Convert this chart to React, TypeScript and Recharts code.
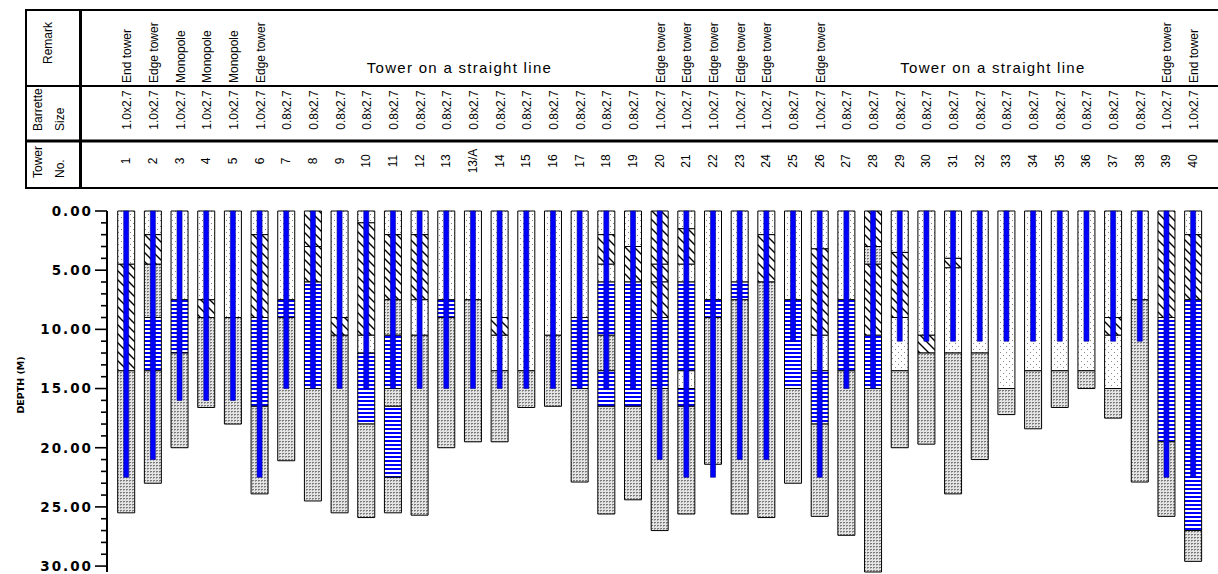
import React from 'react';
import { BarChart, Bar, XAxis, YAxis, Cell } from 'recharts';

if (typeof document !== 'undefined') {
  document.body.style.margin = '0';
  document.body.style.overflow = 'hidden';
}

const towers = ['1', '2', '3', '4', '5', '6', '7', '8', '9', '10', '11', '12', '13', '13/A', '14', '15', '16', '17', '18', '19', '20', '21', '22', '23', '24', '25', '26', '27', '28', '29', '30', '31', '32', '33', '34', '35', '36', '37', '38', '39', '40'];

const barretteSizes = [
  '1.0x2.7', '1.0x2.7', '1.0x2.7', '1.0x2.7', '1.0x2.7', '1.0x2.7',
  '0.8x2.7', '0.8x2.7', '0.8x2.7', '0.8x2.7', '0.8x2.7', '0.8x2.7', '0.8x2.7', '0.8x2.7', '0.8x2.7', '0.8x2.7', '0.8x2.7', '0.8x2.7', '0.8x2.7', '0.8x2.7',
  '1.0x2.7', '1.0x2.7', '1.0x2.7', '1.0x2.7', '1.0x2.7', '0.8x2.7', '1.0x2.7',
  '0.8x2.7', '0.8x2.7', '0.8x2.7', '0.8x2.7', '0.8x2.7', '0.8x2.7', '0.8x2.7', '0.8x2.7', '0.8x2.7', '0.8x2.7', '0.8x2.7', '0.8x2.7',
  '1.0x2.7', '1.0x2.7',
];

const remarks = [
  'End tower', 'Edge tower', 'Monopole', 'Monopole', 'Monopole', 'Edge tower',
  '', '', '', '', '', '', '', '', '', '', '', '', '', '',
  'Edge tower', 'Edge tower', 'Edge tower', 'Edge tower', 'Edge tower', '', 'Edge tower',
  '', '', '', '', '', '', '', '', '', '', '', '',
  'Edge tower', 'End tower',
];

const remarkGroups = [
  { label: 'Tower on a straight line', from: 6, to: 19 },
  { label: 'Tower on a straight line', from: 27, to: 38 },
];

// pile (blue) tip depth, m
const pileDepths = [22.5, 21, 16, 16, 16, 22.5, 15, 15, 15, 15, 15, 15, 15, 15, 15, 15, 15, 15, 15, 15, 21, 22.5, 22.5, 21, 21, 11, 22.5, 15, 15, 11, 11, 11, 11, 11, 11, 11, 11, 11, 11, 22.5, 22.5];

// soil layers: [pattern, bottom depth (m)]  S=sand dots, H=hatched, B=blue stripes, G=dense grid
const soilLayers: [string, number][][] = [
  [['S', 4.5], ['H', 13.5], ['G', 25.5]],
  [['S', 2], ['H', 4.5], ['G', 9], ['B', 13.5], ['G', 23]],
  [['S', 7.5], ['B', 12], ['G', 20]],
  [['S', 7.5], ['H', 9], ['G', 16.6]],
  [['S', 9], ['G', 18]],
  [['S', 2], ['H', 9], ['B', 16.5], ['G', 23.9]],
  [['S', 7.5], ['B', 9], ['G', 21.1]],
  [['H', 3], ['H', 6], ['B', 15], ['G', 24.5]],
  [['S', 9], ['H', 10.5], ['G', 25.5]],
  [['S', 1], ['H', 10.5], ['S', 12], ['B', 18], ['G', 25.9]],
  [['S', 2], ['H', 7.5], ['G', 10.5], ['B', 15], ['G', 16.5], ['B', 22.5], ['G', 25.5]],
  [['S', 2], ['H', 7.5], ['S', 10.5], ['G', 25.7]],
  [['S', 7.5], ['B', 9], ['G', 20]],
  [['S', 7.5], ['G', 19.5]],
  [['S', 9], ['H', 10.5], ['S', 13.5], ['G', 19.5]],
  [['S', 13.5], ['G', 16.6]],
  [['S', 10.5], ['G', 16.5]],
  [['S', 9], ['B', 15], ['G', 22.9]],
  [['S', 2], ['H', 4.5], ['S', 6], ['B', 10.5], ['G', 13.5], ['B', 16.5], ['G', 25.6]],
  [['S', 3], ['H', 6], ['B', 16.5], ['G', 24.4]],
  [['H', 4.5], ['H', 6], ['H', 9], ['B', 15], ['G', 27]],
  [['S', 1.5], ['H', 4.5], ['S', 6], ['B', 13.5], ['S', 15], ['B', 16.5], ['G', 25.6]],
  [['S', 7.5], ['B', 9], ['G', 21.4]],
  [['S', 6], ['B', 7.5], ['G', 25.6]],
  [['S', 2], ['H', 6], ['G', 25.9]],
  [['S', 7.5], ['B', 15], ['G', 23]],
  [['S', 3.2], ['H', 10.5], ['S', 13.5], ['B', 18], ['G', 25.8]],
  [['S', 7.5], ['B', 13.5], ['G', 27.4]],
  [['H', 3], ['G', 4.5], ['H', 10.5], ['B', 15], ['G', 30.5]],
  [['S', 3.5], ['H', 9], ['S', 13.5], ['G', 20]],
  [['S', 10.5], ['H', 12], ['G', 19.7]],
  [['S', 4], ['H', 4.8], ['S', 12], ['G', 23.9]],
  [['S', 12], ['G', 21]],
  [['S', 15], ['G', 17.2]],
  [['S', 13.5], ['G', 18.4]],
  [['S', 13.5], ['G', 16.6]],
  [['S', 13.5], ['G', 15]],
  [['S', 9], ['H', 10.5], ['S', 15], ['G', 17.5]],
  [['S', 7.5], ['G', 22.9]],
  [['H', 9], ['B', 19.5], ['G', 25.8]],
  [['S', 2], ['H', 7.5], ['B', 27], ['G', 29.6]],
];

const depthTicks = [0, 1, 2, 3, 4, 5, 6, 7, 8, 9, 10, 11, 12, 13, 14, 15, 16, 17, 18, 19, 20, 21, 22, 23, 24, 25, 26, 27, 28, 29, 30];

const MAX_LAYERS = 7;

const data = towers.map((t, i) => {
  const row: Record<string, any> = { tower: t, pile: pileDepths[i] };
  let prev = 0;
  soilLayers[i].forEach(([type, bottom], k) => {
    row[`l${k}`] = bottom - prev;
    row[`t${k}`] = type;
    prev = bottom;
  });
  return row;
});

const HEAD_FONT = "'Liberation Sans', Arial, Helvetica, sans-serif";
const AXIS_FONT = "'DejaVu Sans', Verdana, sans-serif";

const rotText = (key: string, tx: number, ty: number, txt: string, anchor: string, size = 12) => (
  <text
    key={key}
    transform={`translate(${tx},${ty}) rotate(-90)`}
    textAnchor={anchor}
    dy="0.35em"
    fontSize={size}
    fontFamily={HEAD_FONT}
    fill="#000"
  >
    {txt}
  </text>
);

const HeaderTick = (props: any) => {
  const { x, y, payload } = props;
  const i: number = props.index ?? payload.index;
  const half: number = payload.offset ?? 13.3;
  const out: any[] = [];
  out.push(rotText('n', x, y - 50, towers[i], 'middle'));
  out.push(rotText('s', x + 1, y - 101, barretteSizes[i], 'middle'));
  if (remarks[i]) out.push(rotText('r', x + 1, y - 128, remarks[i], 'start'));
  remarkGroups.forEach((g, gi) => {
    const c = (g.from + g.to) / 2;
    if (Math.floor(c) === i) {
      out.push(
        <text
          key={`g${gi}`}
          x={x + (c - i) * 2 * half}
          y={y - 138}
          textAnchor="middle"
          fontSize={15}
          letterSpacing={1.3}
          fontFamily={HEAD_FONT}
          fill="#000"
        >
          {g.label}
        </text>
      );
    }
  });
  return <g>{out}</g>;
};

const DepthTick = (props: any) => {
  const { x, y, payload } = props;
  const v: number = payload.value;
  const major = v % 5 === 0;
  return (
    <g>
      <line x1={x - (major ? 12 : 6)} x2={x} y1={y} y2={y} stroke="#000" strokeWidth={1.6} />
      {major && (
        <text
          x={x - 14}
          y={y}
          dy="0.36em"
          textAnchor="end"
          fontSize={13.5}
          fontWeight="bold"
          letterSpacing={2}
          fontFamily={AXIS_FONT}
          fill="#000"
        >
          {v.toFixed(2)}
        </text>
      )}
    </g>
  );
};

const Patterns = () => (
  <svg width={0} height={0} style={{ position: 'absolute' }}>
    <defs>
      <pattern id="pat-S" width={6} height={6} patternUnits="userSpaceOnUse">
        <rect width={6} height={6} fill="#fff" />
        <rect x={1} y={1} width={1} height={1} fill="#8a8a8a" />
        <rect x={4} y={4} width={1} height={1} fill="#8a8a8a" />
      </pattern>
      <pattern id="pat-H" width={9} height={9} patternUnits="userSpaceOnUse">
        <rect width={9} height={9} fill="#fff" />
        <path d="M0,0 L9,9 M-2,7 L2,11 M7,-2 L11,2" stroke="#000" strokeWidth={1.4} />
      </pattern>
      <pattern id="pat-B" width={4} height={4} patternUnits="userSpaceOnUse">
        <rect width={4} height={4} fill="#fff" />
        <rect y={0} width={4} height={2} fill="#0000ff" />
      </pattern>
      <pattern id="pat-G" width={3} height={3} patternUnits="userSpaceOnUse">
        <rect width={3} height={3} fill="#e4e4e4" />
        <rect x={0} y={0} width={2} height={1} fill="#7a7a7a" />
        <rect x={0} y={1} width={1} height={1} fill="#a8a8a8" />
      </pattern>
    </defs>
  </svg>
);

const Frame = () => (
  <svg width={1218} height={200} style={{ position: 'absolute', left: 0, top: 0, pointerEvents: 'none' }}>
    <g stroke="#000" fill="none">
      <line x1={25} x2={1218} y1={10} y2={10} strokeWidth={2} />
      <line x1={25} x2={1218} y1={86} y2={86} strokeWidth={2} />
      <line x1={25} x2={1218} y1={141} y2={141} strokeWidth={3} />
      <line x1={25} x2={1218} y1={188} y2={188} strokeWidth={2} />
      <line x1={26} x2={26} y1={9} y2={189} strokeWidth={2} />
      <line x1={80.5} x2={80.5} y1={9} y2={189} strokeWidth={3} />
    </g>
    {rotText('remark', 48, 43, 'Remark', 'middle')}
    {rotText('barrette', 38, 131, 'Barrette', 'start')}
    {rotText('size', 60, 131, 'Size', 'start')}
    {rotText('tower', 38, 178, 'Tower', 'start')}
    {rotText('no', 60, 178, 'No.', 'start')}
  </svg>
);

export default function App() {
  return (
    <div style={{ position: 'relative', width: 1218, height: 574, background: '#fff' }}>
      <Patterns />
      <BarChart
        width={1218}
        height={574}
        data={data}
        margin={{ top: 0, right: 6, bottom: 2, left: 0 }}
        barGap={0}
      >
        <XAxis
          xAxisId="main"
          dataKey="tower"
          orientation="top"
          height={211}
          interval={0}
          tickLine={false}
          axisLine={false}
          tickSize={0}
          tickMargin={0}
          padding={{ left: 5.7, right: 5.7 }}
          tick={<HeaderTick />}
        />
        <XAxis xAxisId="pile" dataKey="tower" hide padding={{ left: 5.7, right: 5.7 }} />
        <YAxis
          type="number"
          reversed
          domain={[0, 'dataMax']}
          ticks={depthTicks}
          interval={0}
          width={107}
          tickSize={0}
          tickMargin={0}
          tickLine={false}
          axisLine={{ stroke: '#000', strokeWidth: 2 }}
          tick={<DepthTick />}
        />
        {Array.from({ length: MAX_LAYERS }).map((_, k) => (
          <Bar
            key={`l${k}`}
            xAxisId="main"
            dataKey={`l${k}`}
            stackId="soil"
            barSize={17}
            isAnimationActive={false}
            stroke="#000"
            strokeWidth={1}
          >
            {data.map((d, i) => (
              <Cell key={i} fill={d[`t${k}`] ? `url(#pat-${d[`t${k}`]})` : 'none'} />
            ))}
          </Bar>
        ))}
        <Bar
          xAxisId="pile"
          dataKey="pile"
          barSize={5}
          isAnimationActive={false}
          fill="#0000ff"
          stroke="#00008b"
          strokeWidth={0.6}
        />
      </BarChart>
      <Frame />
      <svg width={40} height={574} style={{ position: 'absolute', left: 0, top: 0, pointerEvents: 'none' }}>
        <text
          transform="translate(21,385) rotate(-90)"
          textAnchor="middle"
          dy="0.35em"
          fontSize={9.5}
          fontWeight="bold"
          fontFamily={AXIS_FONT}
          fill="#000"
        >
          DEPTH (M)
        </text>
      </svg>
    </div>
  );
}
